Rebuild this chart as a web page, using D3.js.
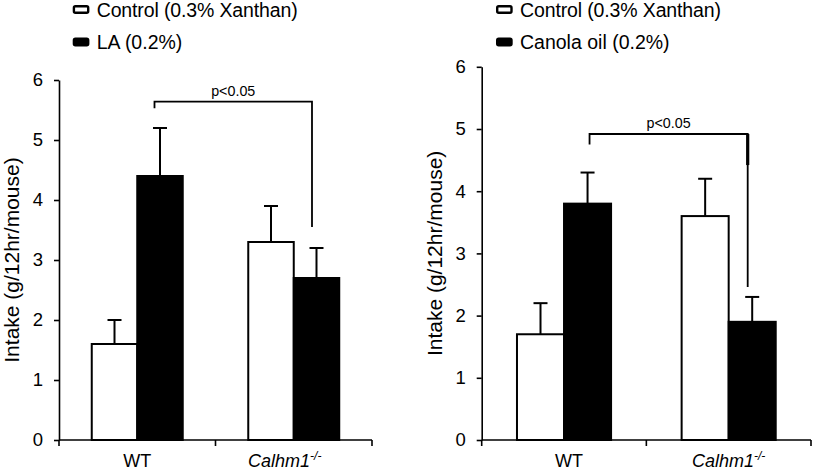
<!DOCTYPE html>
<html><head><meta charset="utf-8">
<script src="https://cdn.jsdelivr.net/npm/d3@7/dist/d3.min.js"></script>
<style>
html,body{margin:0;padding:0;background:#fff;}
text{font-family:"Liberation Sans",Arial,Helvetica,sans-serif;fill:#000;}
</style></head>
<body>
<svg id="chart" width="814" height="472"></svg>
<script>
// ---- data ----
const categories = ["WT", "Calhm1"];
const yTicks = [0, 1, 2, 3, 4, 5, 6];
const yTitle = "Intake (g/12hr/mouse)";
const pText = "p<0.05";

const leftSeries = ["Control (0.3% Xanthan)", "LA (0.2%)"];
const leftControl = [1.6, 3.3];
const leftControlErr = [0.4, 0.6];
const leftTreat = [4.4, 2.7];
const leftTreatErr = [0.8, 0.5];
const leftBracket = [5.64, 5.53, 3.55];          // top, left end, right end

const rightSeries = ["Control (0.3% Xanthan)", "Canola oil (0.2%)"];
const rightControl = [1.7, 3.6];
const rightControlErr = [0.5, 0.6];
const rightTreat = [3.8, 1.9];
const rightTreatErr = [0.5, 0.4];
const rightBracket = [4.92, 4.75, 2.46, 4.42];    // top, left end, right end, thick part end

// ---- layout ----
const panels = [
  {x0: 59, x1: 372, yTop: 80, series: leftSeries, control: leftControl, controlErr: leftControlErr,
   treat: leftTreat, treatErr: leftTreatErr, bracket: leftBracket, brOff: [-5.5, -4.5],
   legX: 72.7, labelOff: [0, -9], pad: 0.72},
  {x0: 481.7, x1: 811, yTop: 66.8, series: rightSeries, control: rightControl, controlErr: rightControlErr,
   treat: rightTreat, treatErr: rightTreatErr, bracket: rightBracket, brOff: [2, -4.5],
   legX: 496, labelOff: [5, 0], pad: 0.75}
];
const yBase = 440;

const svg = d3.select("#chart");

panels.forEach(p => {
  const g = svg.append("g");
  const x0 = d3.scaleBand().domain(categories).range([p.x0, p.x1]).padding(0);
  const x1 = d3.scaleBand().domain(["c", "t"]).range([0, x0.bandwidth()]).paddingInner(0).paddingOuter(p.pad);
  const y = d3.scaleLinear().domain([0, 6]).range([yBase, p.yTop]);

  // y axis
  const ya = g.append("g").attr("transform", `translate(${p.x0},0)`)
    .call(d3.axisLeft(y).tickValues(yTicks).tickFormat(d3.format("d")).tickSize(5).tickSizeOuter(0).tickPadding(11));
  ya.selectAll("path,line").attr("stroke", "#000").attr("stroke-width", 1.6);
  ya.selectAll("text").style("font-size", "18.5px").attr("font-family", null);

  // x axis line and ticks
  g.append("line").attr("x1", p.x0).attr("x2", p.x1).attr("y1", yBase).attr("y2", yBase)
    .attr("stroke", "#000").attr("stroke-width", 1.6);
  d3.range(categories.length + 1).forEach(i => {
    const xx = p.x0 + i * x0.step();
    g.append("line").attr("x1", xx).attr("x2", xx).attr("y1", yBase).attr("y2", yBase + 6)
      .attr("stroke", "#000").attr("stroke-width", 1.6);
  });

  // y title
  g.append("text")
    .attr("transform", `translate(${p.x0 - 40},${(yBase + p.yTop) / 2}) rotate(-90)`)
    .attr("text-anchor", "middle").style("font-size", "21px").text(yTitle);

  // bars
  const rows = categories.map((c, i) => ({c, i}));
  const barData = [];
  rows.forEach(r => {
    barData.push({cat: r.c, key: "c", v: p.control[r.i], e: p.controlErr[r.i]});
    barData.push({cat: r.c, key: "t", v: p.treat[r.i], e: p.treatErr[r.i]});
  });
  const cx = d => x0(d.cat) + x1(d.key) + x1.bandwidth() / 2;

  // error bars (drawn first, bars cover the base)
  barData.forEach(d => {
    g.append("line").attr("x1", cx(d)).attr("x2", cx(d)).attr("y1", y(d.v)).attr("y2", y(d.v + d.e))
      .attr("stroke", "#000").attr("stroke-width", 2);
    g.append("line").attr("x1", cx(d) - 7).attr("x2", cx(d) + 7).attr("y1", y(d.v + d.e)).attr("y2", y(d.v + d.e))
      .attr("stroke", "#000").attr("stroke-width", 2);
  });

  g.selectAll("rect.bar").data(barData).join("rect").attr("class", "bar")
    .attr("x", d => x0(d.cat) + x1(d.key))
    .attr("y", d => y(d.v))
    .attr("width", x1.bandwidth())
    .attr("height", d => yBase - y(d.v))
    .attr("fill", d => d.key === "c" ? "#fff" : "#000")
    .attr("stroke", "#000").attr("stroke-width", 2);

  // x labels
  const labY = 467;
  const wtX = x0(categories[0]) + x0.bandwidth() / 2 + p.labelOff[0];
  g.append("text").attr("x", wtX).attr("y", labY).attr("text-anchor", "middle")
    .style("font-size", "18px").text(categories[0]);
  const kx = x0(categories[1]) + x0.bandwidth() / 2 + p.labelOff[1];
  const kt = g.append("text").attr("x", kx).attr("y", labY).attr("text-anchor", "middle")
    .style("font-size", "18px").style("font-style", "italic");
  kt.append("tspan").text(categories[1]);
  kt.append("tspan").attr("dy", -7).style("font-size", "12px").text("-/-");

  // bracket
  const bL = cx(barData[1]) + p.brOff[0];
  const bR = cx(barData[3]) + p.brOff[1];
  const bTop = y(p.bracket[0]);
  g.append("path")
    .attr("d", `M${bL},${y(p.bracket[1])}V${bTop}H${bR}V${y(p.bracket[2])}`)
    .attr("fill", "none").attr("stroke", "#000").attr("stroke-width", 1.8);
  if (p.bracket.length > 3) {
    g.append("line").attr("x1", bR).attr("x2", bR).attr("y1", bTop).attr("y2", y(p.bracket[3]))
      .attr("stroke", "#000").attr("stroke-width", 3.2);
  }
  g.append("text").attr("x", (bL + bR) / 2).attr("y", bTop - 6).attr("text-anchor", "middle")
    .style("font-size", "14.3px").text(pText);

  // legend
  const legY = [5, 37.5];
  p.series.forEach((s, i) => {
    g.append("rect").attr("x", p.legX + 1.2).attr("y", legY[i] + 1.2).attr("width", 14.3).attr("height", 6.6)
      .attr("rx", 1.5).attr("fill", i === 0 ? "#fff" : "#000").attr("stroke", "#000").attr("stroke-width", 2.4);
    const t = g.append("text").attr("x", p.legX + 24).attr("y", legY[i] + 11.5)
      .style("font-size", "19.5px").text(s);
    if (i === 0) t.attr("textLength", 201).attr("lengthAdjust", "spacing");
  });
});
</script>
</body></html>
